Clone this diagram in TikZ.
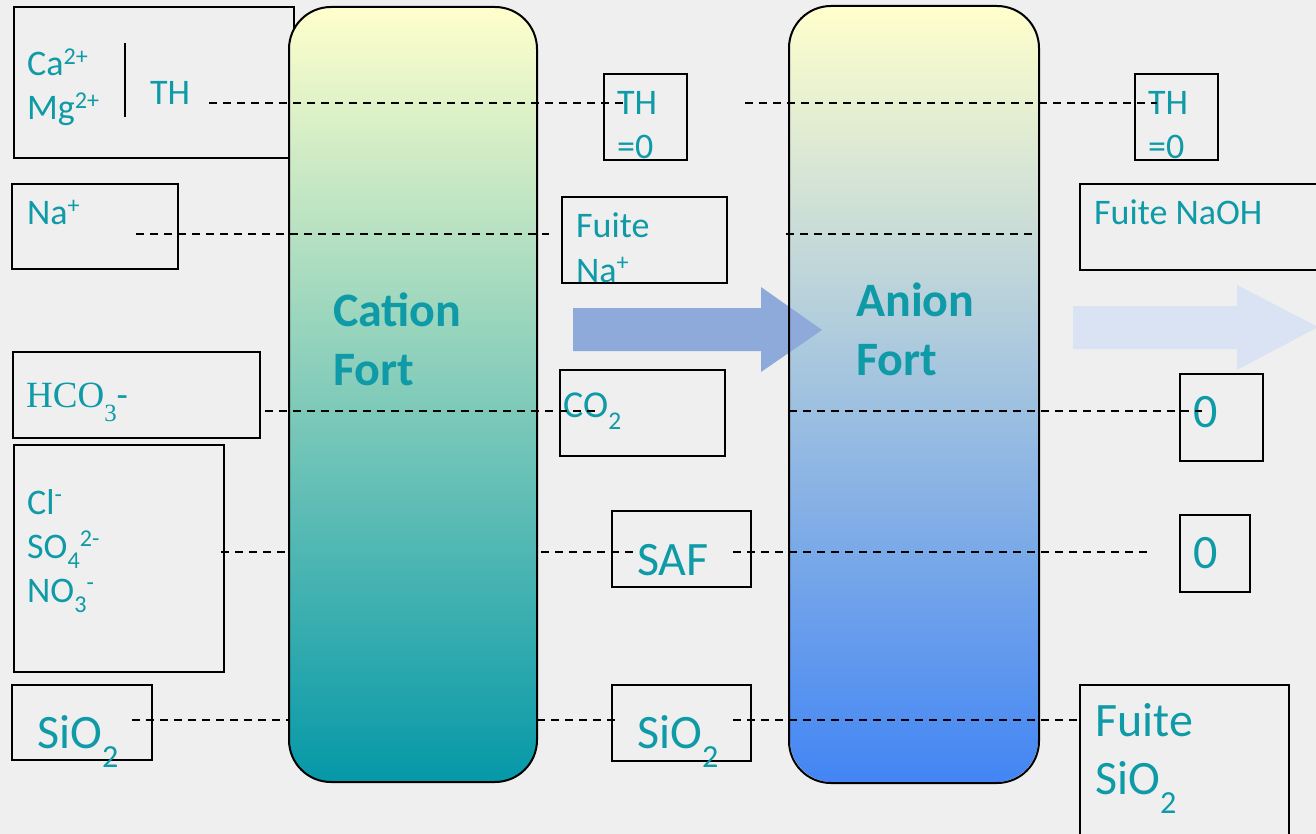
\documentclass[tikz,border=0pt]{standalone}
\usepackage{fontspec}
\setmainfont{Carlito}
\newfontfamily\timesfont{Liberation Serif}
\usepackage{graphicx}
\usepackage{xcolor}
\definecolor{ionteal}{RGB}{14,154,167}
\definecolor{bggray}{RGB}{239,239,239}
\definecolor{coltop}{RGB}{255,255,204}
\definecolor{catbot}{RGB}{5,152,168}
\definecolor{anbot}{RGB}{66,133,244}
\definecolor{flowblue}{RGB}{142,170,219}
\definecolor{flowpale}{RGB}{218,227,243}
\newcommand{\isub}[2][0.4]{\raisebox{-#1em}{\scalebox{0.67}{#2}}}
\newcommand{\isup}[1]{\raisebox{0.33em}{\scalebox{0.67}{#1}}}
\tikzset{box/.style={draw,line width=1.8pt,inner sep=0pt,anchor=north west},
  column/.style={draw,line width=2pt,rounded corners=42pt,inner sep=0pt,anchor=north west,minimum width=248pt,minimum height=775pt},
  ion/.style={text=ionteal,inner sep=0pt,anchor=base west,align=left,font=\fontsize{36}{44}\selectfont},
  bigion/.style={ion,font=\fontsize{48}{58}\selectfont},
  colname/.style={ion,font=\fontsize{48}{59}\selectfont\bfseries},
  leak/.style={line width=2pt,dash pattern=on 8pt off 6pt}}

\begin{document}
\begin{tikzpicture}[x=1pt,y=-1pt]
    \path[use as bounding box,fill=bggray] (0,0) rectangle (1316,834);
    % inlet boxes
    \node[box,minimum width=280pt,minimum height=151pt] (thin)at (13,6) {};
    \node[box,minimum width=166pt,minimum height=85pt] (nain)at (11,183) {};
    \node[box,minimum width=247pt,minimum height=86pt] (hcoin)at (12,351) {};
    \node[box,minimum width=210pt,minimum height=227pt] (clin)at (13,444) {};
    \node[box,minimum width=140pt,minimum height=75pt] (siin)at (11,684) {};
    \draw[line width=1.8pt] (125,43) -- (125,117);
    \node[ion] (ca)at (27,120) {Ca\isup{2+}\\Mg\isup{2+}};
    \node[ion] (thtxt)at (150,105) {TH};
    \node[ion] (natxt)at (27,225) {Na\isup{+}};
    \node[ion,font=\fontsize{37}{44}\selectfont] (hcotxt)at (26,407) {{\timesfont HCO\isub[0.38]{3}}-};
    \node[ion] (cltxt)at (27,602) {Cl\isup{-}\\SO\isub[0.3]{4}\isup{2-}\\NO\isub[0.3]{3}\isup{-}};
    \node[bigion] (sitxt)at (37,748) {SiO\isub{2}};
    % columns
    \node[column,top color=coltop,bottom color=catbot] (cation)at (288,6) {};
    \node[column,draw=none,top color=coltop,bottom color=anbot] (anion)at (789,6) {};
    \node[colname] (catname)at (333,385) {Cation\\Fort};
    \node[colname] (anname)at (856,375) {Anion\\Fort};
    % flow arrows
    \fill[flowblue] (573,308) -- (761,308) -- (761,287) -- (822,330) -- (761,372) -- (761,351) -- (573,351) -- cycle;
    \fill[flowpale] (1073,306) -- (1237,306) -- (1237,285) -- (1318,327) -- (1237,370) -- (1237,349) -- (1073,349) -- cycle;
    \draw[line width=2pt,rounded corners=42pt] (anion.north west) rectangle (anion.south east);
    % boxes after the cation column
    \node[box,minimum width=83pt,minimum height=86pt] (thmid)at (603,73) {};
    \node[box,minimum width=165pt,minimum height=86pt] (namid)at (561,196) {};
    \node[box,minimum width=165pt,minimum height=86pt] (comid)at (559,369) {};
    \node[box,minimum width=139pt,minimum height=76pt] (safmid)at (611,510) {};
    \node[box,minimum width=139pt,minimum height=76pt] (simid)at (611,684) {};
    \node[ion] (thmidtxt)at (617,159) {TH\\=0};
    \node[ion] (namidtxt)at (576,282) {Fuite\\Na\isup{+}};
    \node[ion,font=\fontsize{38}{44}\selectfont] (comidtxt)at (563,417) {CO\isub[0.34]{2}};
    \node[bigion] (safmidtxt)at (637,575) {SAF};
    \node[bigion] (simidtxt)at (637,748) {SiO\isub{2}};
    % boxes after the anion column
    \node[box,minimum width=83pt,minimum height=86pt] (thout)at (1134,73) {};
    \node[box,minimum width=250pt,minimum height=86pt] (naout)at (1079,183) {};
    \node[box,minimum width=83pt,minimum height=87pt] (coout)at (1179,373) {};
    \node[box,minimum width=70pt,minimum height=77pt] (safout)at (1179,514) {};
    \node[box,minimum width=209pt,minimum height=170pt] (siout)at (1079,684) {};
    \node[ion] (thouttxt)at (1148,159) {TH\\=0};
    \node[ion] (naouttxt)at (1094,225) {Fuite NaOH};
    \node[bigion] (coouttxt)at (1193,427) {0};
    \node[bigion] (safouttxt)at (1193,568) {0};
    \node[bigion] (siouttxt)at (1095,794) {Fuite\\SiO\isub{2}};
    % leak lines
    \coordinate (thA) at (209,103); \coordinate (thB) at (623,103);
    \coordinate (thC) at (745,103); \coordinate (thD) at (1157,103);
    \coordinate (naA) at (136,234); \coordinate (naB) at (549,234);
    \coordinate (naC) at (786,234); \coordinate (naD) at (1033,234);
    \coordinate (hcA) at (265,411); \coordinate (hcB) at (595,411);
    \coordinate (hcC) at (789,411); \coordinate (hcD) at (1202,411);
    \coordinate (clA) at (221,552); \coordinate (clB) at (541,552);
    \coordinate (clC) at (637,552); \coordinate (clD) at (733,552);
    \coordinate (clE) at (1147,552);
    \coordinate (siA) at (132,720); \coordinate (siB) at (537,720);
    \coordinate (siC) at (616,720); \coordinate (siD) at (733,720);
    \draw[leak] (thA) -- (thB);
    \draw[leak] (thC) -- (thD);
    \draw[leak] (naA) -- (naB);
    \draw[leak] (naC) -- (naD);
    \draw[leak] (hcA) -- (hcB);
    \draw[leak] (hcC) -- (hcD);
    \draw[leak] (clA) -- (cation.west |- clA);
    \draw[leak] (clB) -- (clC);
    \draw[leak] (clD) -- (clE);
    \draw[leak] (siA) -- (cation.west |- siA);
    \draw[leak] (siB) -- (siC);
    \draw[leak] (siD) -- (siout.west |- siD);
\end{tikzpicture}
\end{document}
